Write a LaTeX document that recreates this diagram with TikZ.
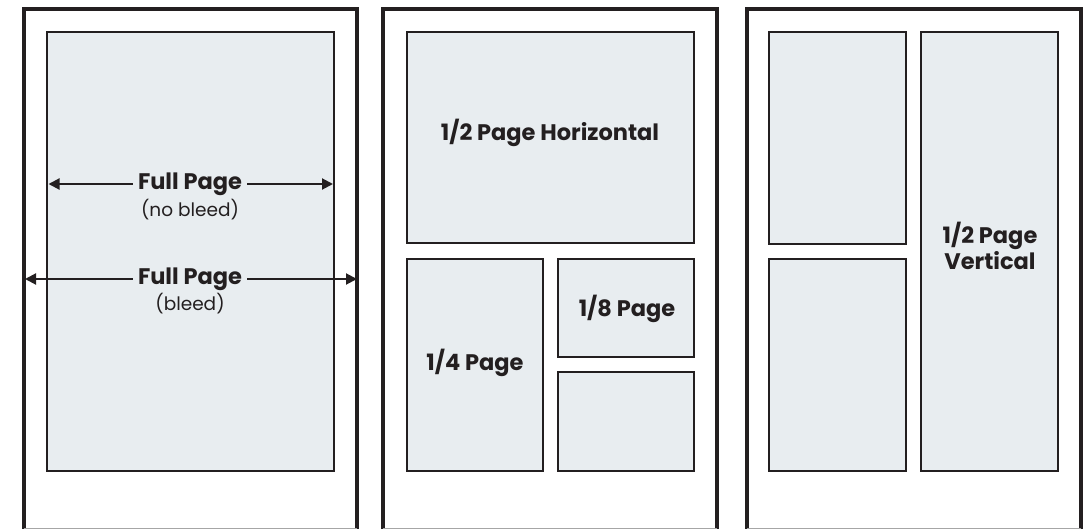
\documentclass[tikz,border=0pt]{standalone}
\usepackage{fontspec}
\setmainfont{Poppins}
\usetikzlibrary{arrows.meta}
\definecolor{ink}{RGB}{35,31,32}
\definecolor{paper}{RGB}{232,237,240}
\tikzset{
  frame/.style={draw=ink, line width=3.6pt},
  adbox/.style={draw=ink, fill=paper, line width=2.4pt},
  lbl/.style={font=\fontsize{22.5}{26}\selectfont\bfseries, text=ink, inner sep=0pt},
  sub/.style={font=\fontsize{18.5}{20}\selectfont, text=ink, inner sep=0pt},
  dim/.style={draw=ink, line width=2pt, -{Triangle[length=11pt,width=11pt]}},
}
\begin{document}
\begin{tikzpicture}[x=1pt,y=-1pt]
\useasboundingbox (0,0) rectangle (1086,529);
\begin{scope}
\clip (0,0) rectangle (1086,529);
% frames
\foreach \l/\r [count=\i] in {24/357,383/717,747/1081}{
  \draw[frame] (\l,540) -- (\l,9) -- (\r,9) -- (\r,540);
  \draw[draw=gray!70, line width=1pt] (\l,528.5) -- (\r,528.5);
}
% panel 1
\draw[adbox] (47,32) rectangle (334,471);
\node[lbl, inner xsep=5pt] (fp1) at (190,184) {Full Page};
\node[sub] (nb) at (190,210) {(no bleed)};
\coordinate (a1l) at (48.5,184);
\coordinate (a1r) at (333,184);
\draw[dim] (fp1.west) -- (a1l);
\draw[dim] (fp1.east) -- (a1r);
\node[lbl, inner xsep=5pt] (fp2) at (190,279) {Full Page};
\node[sub] (bl) at (190,304) {(bleed)};
\coordinate (a2l) at (25,279);
\coordinate (a2r) at (357,279);
\draw[dim] (fp2.west) -- (a2l);
\draw[dim] (fp2.east) -- (a2r);
% panel 2
\draw[adbox] (407,32) rectangle (694,243);
\node[lbl] (half) at (550,133) {1/2 Page Horizontal};
\draw[adbox] (407,259) rectangle (543,471);
\node[lbl] (quarter) at (475,363) {1/4 Page};
\draw[adbox] (558,259) rectangle (694,357);
\node[lbl] (eighth) at (627,309) {1/8 Page};
\draw[adbox] (558,372) rectangle (694,471);
% panel 3
\draw[adbox] (769,32) rectangle (906,244);
\draw[adbox] (769,259) rectangle (906,471);
\draw[adbox] (921,32) rectangle (1058,471);
\node[lbl, align=center] (vert) at (990,246) {1/2 Page\\Vertical};
\end{scope}
\end{tikzpicture}
\end{document}
